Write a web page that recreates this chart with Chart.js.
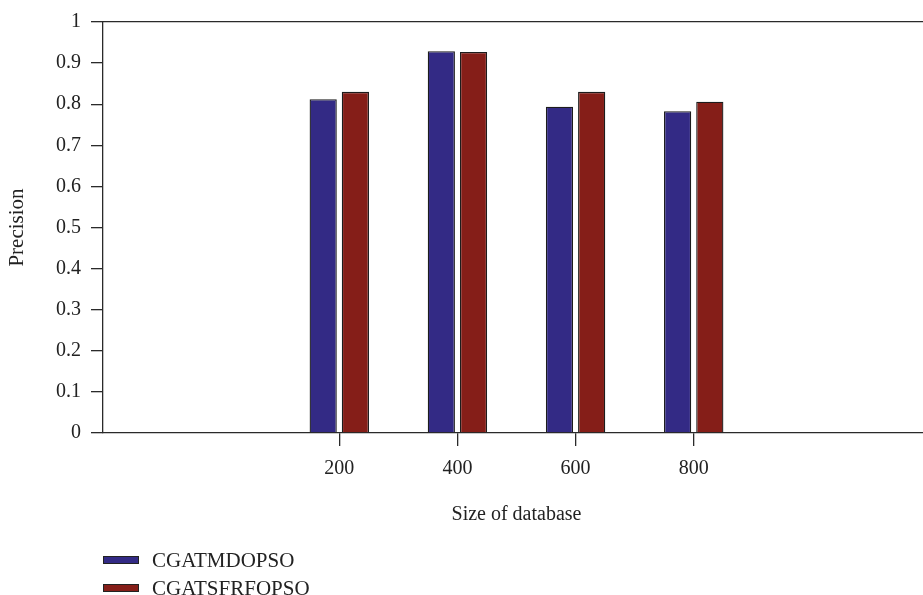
<!DOCTYPE html>
<html>
<head>
<meta charset="utf-8">
<script src="https://cdn.jsdelivr.net/npm/chart.js@4.4.1/dist/chart.umd.min.js"></script>
<style>
  html, body { margin: 0; padding: 0; background: #fff; overflow: hidden; }
  #wrap { position: relative; width: 923px; height: 595px; overflow: hidden; }
  #grafico { position: absolute; left: 0; top: 0; }
  #legenda { position: absolute; left: 103px; top: 546px; font-family: 'Liberation Serif', serif; font-size: 21px; color: #222; }
  .item { display: flex; align-items: center; height: 28px; }
  .caixa { width: 34px; height: 6px; border: 1px solid #222; margin-right: 13px; }
</style>
</head>
<body>
<div id="wrap">
  <canvas id="grafico" width="941" height="595"></canvas>
  <div id="legenda"></div>
</div>
<script>
// dados
const tamanhos = ['200', '400', '600', '800'];
const precisaoMD = [0.812, 0.929, 0.794, 0.783];
const precisaoSF = [0.830, 0.927, 0.830, 0.806];
const nomes = ['CGATMDOPSO', 'CGATSFRFOPSO'];
const ticksY = ['0', '0.1', '0.2', '0.3', '0.4', '0.5', '0.6', '0.7', '0.8', '0.9', '1'];

// eixo vai de -200 a 1200, so 200..800 tem rotulo
const labelsX = ['', ''].concat(tamanhos, ['', '']);
function preencher(valores) {
  return [null, null].concat(valores, [null, null]);
}

const fonte = { family: "'Liberation Serif', serif", size: 20 };
const corEixo = '#2a2a2a';

const dados = {
  labels: labelsX,
  datasets: [
    {
      label: nomes[0],
      data: preencher(precisaoMD),
      backgroundColor: '#332a85',
      borderColor: '#1c1c1c',
      borderWidth: 1.3,
    },
    {
      label: nomes[1],
      data: preencher(precisaoSF),
      backgroundColor: '#851e18',
      borderColor: '#1c1c1c',
      borderWidth: 1.3,
    }
  ]
};

const config = {
  type: 'bar',
  data: dados,
  options: {
    responsive: false,
    animation: false,
    devicePixelRatio: 1,
    categoryPercentage: 0.545,
    barPercentage: 0.845,
    layout: { padding: { left: 0, top: 19, right: 5, bottom: 62 } },
    plugins: {
      legend: { display: false },
      tooltip: { enabled: false }
    },
    scales: {
      x: {
        type: 'category',
        offset: false,
        afterFit: function (scale) { scale.height = 100; },
        grid: {
          offset: false,
          drawOnChartArea: false,
          drawTicks: true,
          tickLength: 13,
          lineWidth: 1.3,
          color: function (ctx) {
            return ctx.tick && ctx.tick.label !== '' ? corEixo : 'rgba(0,0,0,0)';
          }
        },
        border: { display: true, color: corEixo, width: 1.3 },
        ticks: {
          autoSkip: false,
          maxRotation: 0,
          padding: 11,
          color: '#222',
          font: fonte
        },
        title: {
          display: true,
          text: 'Size of database',
          color: '#222',
          font: fonte,
          padding: { top: 0, bottom: 6 }
        }
      },
      topo: {
        type: 'category',
        position: 'top',
        labels: labelsX,
        offset: false,
        grid: { display: false, drawTicks: false },
        border: { display: true, color: corEixo, width: 1.3 },
        ticks: { display: false }
      },
      y: {
        min: 0,
        max: 1,
        afterFit: function (scale) { scale.width = 103; },
        grid: {
          drawOnChartArea: false,
          drawTicks: true,
          tickLength: 12,
          lineWidth: 1.3,
          color: corEixo
        },
        border: { display: true, color: corEixo, width: 1.3 },
        ticks: {
          stepSize: 0.1,
          padding: 10,
          color: '#222',
          font: fonte,
          callback: function (valor) {
            return ticksY[Math.round(valor * 10)];
          }
        },
        title: {
          display: true,
          text: 'Precision',
          color: '#222',
          font: { family: "'Liberation Serif', serif", size: 21 },
          padding: { top: 5, bottom: 0 }
        }
      }
    }
  }
};

let grafico = new Chart(document.getElementById('grafico'), config);

// legenda em html, empilhada como no original
function montarLegenda() {
  let html = '';
  grafico.data.datasets.forEach(function (ds) {
    html += '<div class="item"><span class="caixa" style="background:' + ds.backgroundColor + '"></span>' + ds.label + '</div>';
  });
  document.getElementById('legenda').innerHTML = html;
}
montarLegenda();
</script>
</body>
</html>
